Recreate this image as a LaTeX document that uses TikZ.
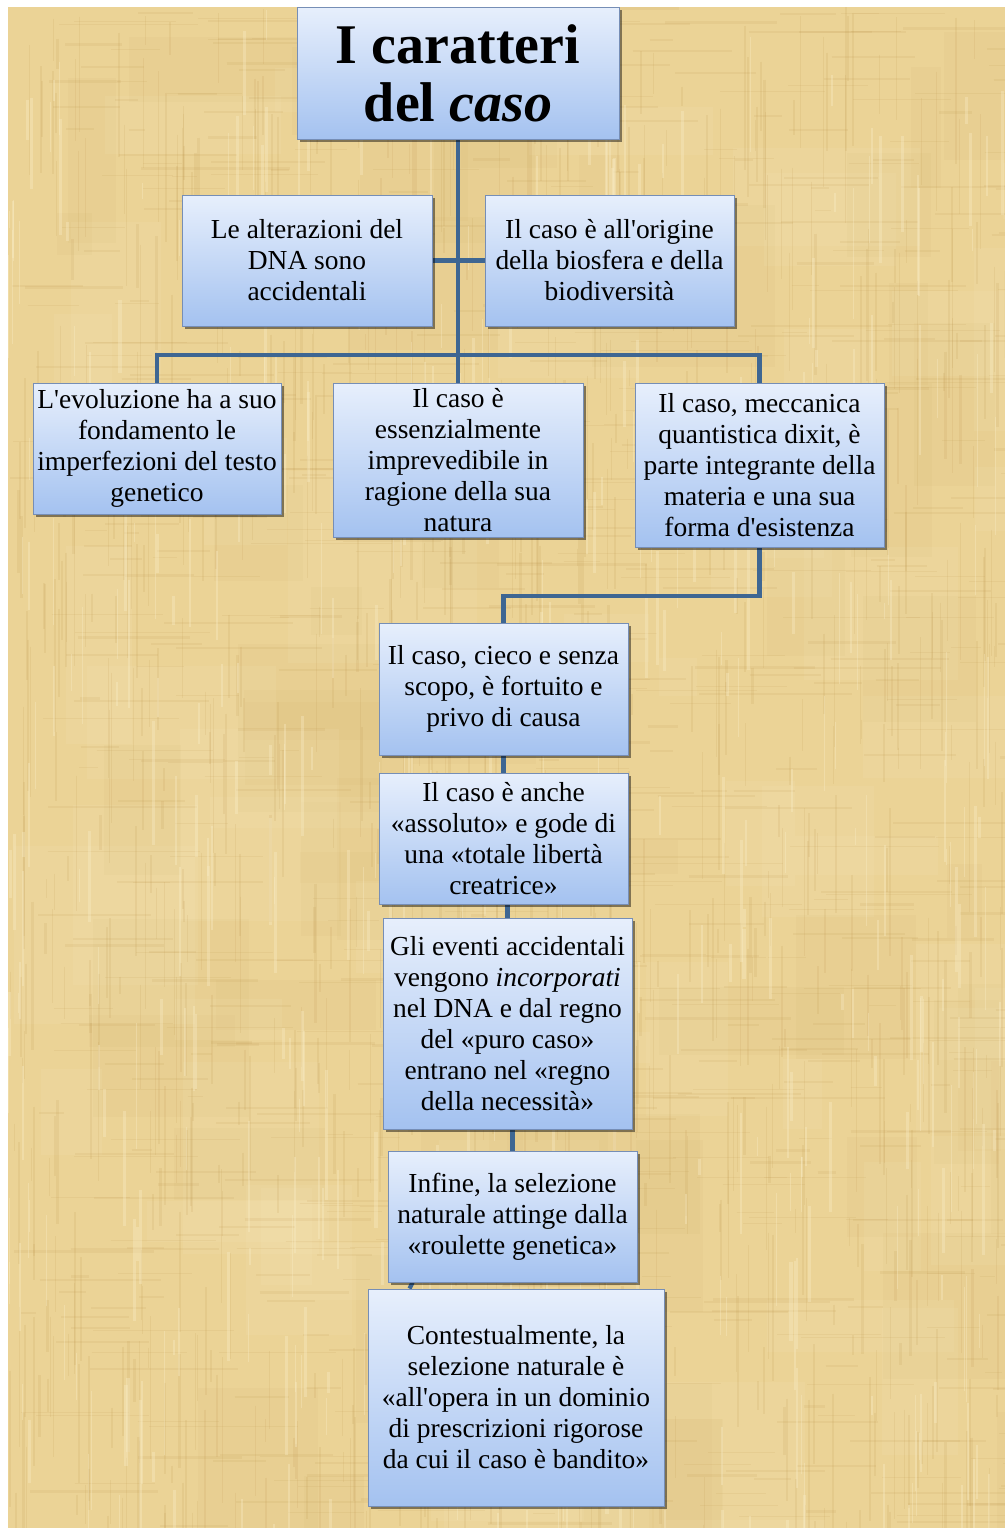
\documentclass[tikz,border=0pt]{standalone}
\usepackage{fontspec}
\setmainfont{Liberation Serif}
\usetikzlibrary{shadows}

\definecolor{paperbase}{RGB}{235,211,150}
\definecolor{paperdark}{RGB}{190,150,78}
\definecolor{paperlight}{RGB}{250,238,200}
\definecolor{cardtop}{RGB}{231,239,252}
\definecolor{cardbot}{RGB}{164,194,240}
\definecolor{cardline}{RGB}{118,142,182}
\definecolor{linkblue}{RGB}{62,102,146}

\newcommand\cardfont{\fontsize{20.6}{23.25}\selectfont}
\newcommand\titlefont{\fontsize{42}{43.5}\selectfont\bfseries}
\newcommand\apo{\textquotesingle}

\pgfdeclarelayer{paper}
\pgfdeclarelayer{links}
\pgfsetlayers{paper,links,main}

\tikzset{
  x=0.75pt, y=-0.75pt,
  card/.style 2 args={draw=cardline, line width=0.7pt,
    top color=cardtop, bottom color=cardbot,
    minimum width=#1*0.75pt, minimum height=#2*0.75pt,
    inner sep=0pt, align=center, font=\cardfont,
    drop shadow={shadow xshift=2pt, shadow yshift=-2.2pt, fill=black, opacity=0.45}},
  link/.style={draw=linkblue, line width=3.2pt},
}

\begin{document}
\begin{tikzpicture}
\useasboundingbox (0,0) rectangle (1005,1528);

% parchment background
\begin{pgfonlayer}{paper}
  \fill[white] (0,0) rectangle (1005,1528);
  \begin{scope}
    \clip (8,7) rectangle (1005,1528);
    \fill[paperbase] (8,7) rectangle (1005,1528);
    \pgfmathsetseed{4242}
    \foreach \k in {1,...,60}{
      \pgfmathsetmacro\px{8+997*rnd}
      \pgfmathsetmacro\py{7+1521*rnd}
      \pgfmathsetmacro\pw{30+170*rnd}
      \pgfmathsetmacro\ph{30+170*rnd}
      \fill[paperdark, opacity=0.05] (\px,\py) rectangle ++(\pw,\ph);
    }
    \foreach \k in {1,...,60}{
      \pgfmathsetmacro\px{8+997*rnd}
      \pgfmathsetmacro\py{7+1521*rnd}
      \pgfmathsetmacro\pw{30+170*rnd}
      \pgfmathsetmacro\ph{30+170*rnd}
      \fill[paperlight, opacity=0.10] (\px,\py) rectangle ++(\pw,\ph);
    }
    \foreach \k in {1,...,900}{
      \pgfmathsetmacro\px{8+997*rnd}
      \pgfmathsetmacro\py{7+1521*rnd}
      \pgfmathsetmacro\pl{15+140*rnd}
      \pgfmathsetmacro\pw{0.4+1.6*rnd}
      \draw[paperdark, opacity=0.14, line width=\pw pt] (\px,\py) -- ++(0,\pl);
    }
    \foreach \k in {1,...,700}{
      \pgfmathsetmacro\px{8+997*rnd}
      \pgfmathsetmacro\py{7+1521*rnd}
      \pgfmathsetmacro\pl{15+140*rnd}
      \pgfmathsetmacro\pw{0.4+1.6*rnd}
      \draw[paperdark, opacity=0.12, line width=\pw pt] (\px,\py) -- ++(\pl,0);
    }
    \foreach \k in {1,...,450}{
      \pgfmathsetmacro\px{8+997*rnd}
      \pgfmathsetmacro\py{7+1521*rnd}
      \pgfmathsetmacro\pl{15+120*rnd}
      \pgfmathsetmacro\pw{0.5+2*rnd}
      \draw[paperlight, opacity=0.35, line width=\pw pt] (\px,\py) -- ++(0,\pl);
    }
  \end{scope}
\end{pgfonlayer}

% boxes
\node[card={322}{132}, font=\titlefont] (top) at (458,73) {I caratteri\\del \textit{caso}};

\node[card={250}{131}] (dna) at (307,260.5) {Le alterazioni del\\DNA sono\\accidentali};
\node[card={249}{131}] (bio) at (609.5,260.5) {Il caso è all\apo origine\\della biosfera e della\\biodiversità};

\node[card={248}{131}] (evo) at (157,448.5) {L\apo evoluzione ha a suo\\fondamento le\\imperfezioni del testo\\genetico};
\node[card={250}{154}] (impr) at (458,460) {Il caso è\\essenzialmente\\imprevedibile in\\ragione della sua\\natura};
\node[card={249}{164}] (quant) at (759.5,465) {Il caso, meccanica\\quantistica dixit, è\\parte integrante della\\materia e una sua\\forma d\apo esistenza};

\node[card={249}{132}] (cieco) at (503.5,689) {Il caso, cieco e senza\\scopo, è fortuito e\\privo di causa};
\node[card={249}{131}] (assol) at (503.5,838.5) {Il caso è anche\\«assoluto» e gode di\\una «totale libertà\\creatrice»};
\node[card={249}{211}] (event) at (507.5,1023.5) {Gli eventi accidentali\\vengono \textit{incorporati}\\nel DNA e dal regno\\del «puro caso»\\entrano nel «regno\\della necessità»};
\node[card={249}{131}] (infine) at (512.5,1216.5) {Infine, la selezione\\naturale attinge dalla\\«roulette genetica»};
\node[card={296}{217}] (contest) at (516,1397.5) {Contestualmente, la\\selezione naturale è\\«all\apo opera in un dominio\\di prescrizioni rigorose\\da cui il caso è bandito»};

% connectors
\coordinate (bar) at (458,355);
\coordinate (elbow) at (503.5,596);
\begin{pgfonlayer}{links}
  \draw[link] (top.south) -- (impr.north);
  \draw[link] (dna.east) -- (bio.west);
  \draw[link] (evo.north) |- (bar) -| (quant.north);
  \draw[link] (quant.south) |- (elbow) -- (cieco.north);
  \draw[link] (cieco.south) -- (assol.north);
  \draw[link] (assol.south -| event.north) -- (event.north);
  \draw[link] (event.south -| infine.north) -- (infine.north);
  \draw[link] ([xshift=18.75pt]infine.south west) -- ([xshift=31.5pt]contest.north west);
\end{pgfonlayer}
\end{tikzpicture}
\end{document}
